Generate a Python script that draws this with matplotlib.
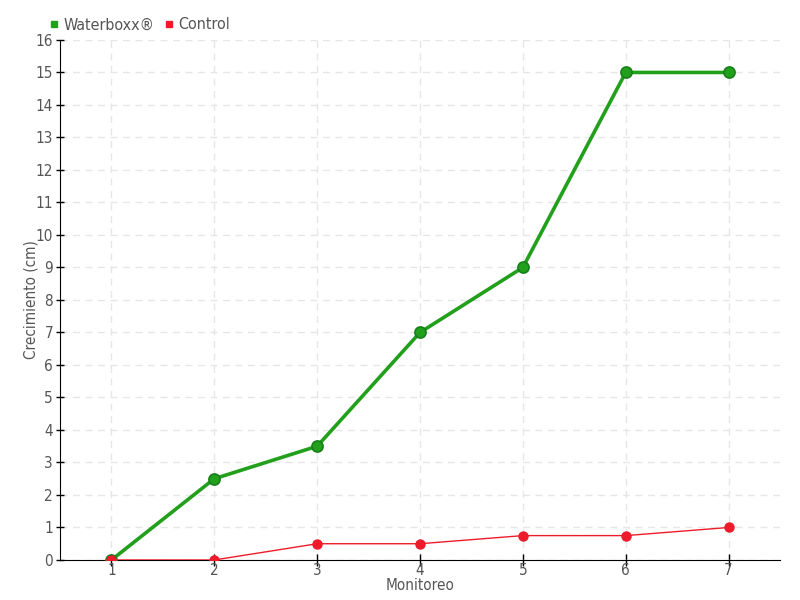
import matplotlib
matplotlib.use('Agg')
import matplotlib.pyplot as plt
from matplotlib.lines import Line2D

# data
monitoreo = [1, 2, 3, 4, 5, 6, 7]
waterboxx = [0, 2.5, 3.5, 7, 9, 15, 15]
control = [0, 0, 0.5, 0.5, 0.75, 0.75, 1]
y_ticks = list(range(0, 17))

plt.rcParams['font.family'] = 'DejaVu Sans'
plt.rcParams['font.stretch'] = 'condensed'
text_color = '#555555'

fig = plt.figure(figsize=(8, 6), dpi=100)
ax = fig.add_axes([0.075, 0.0667, 0.9, 0.8667])

green = '#22a01c'
red = '#ee1c2a'

ax.plot(monitoreo, waterboxx, color=green, lw=2.6, marker='o', ms=8,
        markerfacecolor=green, markeredgecolor='#17801a', markeredgewidth=1.2, zorder=3)
ax.plot(monitoreo, control, color=red, lw=1, marker='o', ms=6.5,
        markerfacecolor=red, markeredgecolor=red, zorder=4)

ax.set_xlim(0.5, 7.5)
ax.set_ylim(0, 16)
ax.set_xticks(monitoreo)
ax.set_yticks(y_ticks)

ax.grid(True, color='#e6e6e6', linestyle=(0, (5, 4)), lw=1)
ax.set_axisbelow(True)

for s in ['top', 'right']:
    ax.spines[s].set_visible(False)
ax.spines['left'].set_color('black')
ax.spines['bottom'].set_color('black')

ax.tick_params(axis='both', direction='inout', length=8, width=1, colors='black',
               labelcolor=text_color, labelsize=11)
ax.tick_params(axis='x', pad=-2)
ax.tick_params(axis='y', pad=2, length=6)

ax.set_xlabel('Monitoreo', color=text_color, fontsize=11, labelpad=0)
ax.set_ylabel('Crecimiento (cm)', color=text_color, fontsize=11, labelpad=-2)

handles = [Line2D([], [], marker='s', ls='none', color=green, ms=5),
           Line2D([], [], marker='s', ls='none', color=red, ms=5)]
leg = fig.legend(handles, ['Waterboxx®', 'Control'], loc='upper left',
                 bbox_to_anchor=(0.043, 0.995), ncol=2, frameon=False,
                 handlelength=0.6, handletextpad=0.3, columnspacing=0.6,
                 fontsize=11.5)
for t in leg.get_texts():
    t.set_color(text_color)

fig.savefig('out.png', dpi=100)
